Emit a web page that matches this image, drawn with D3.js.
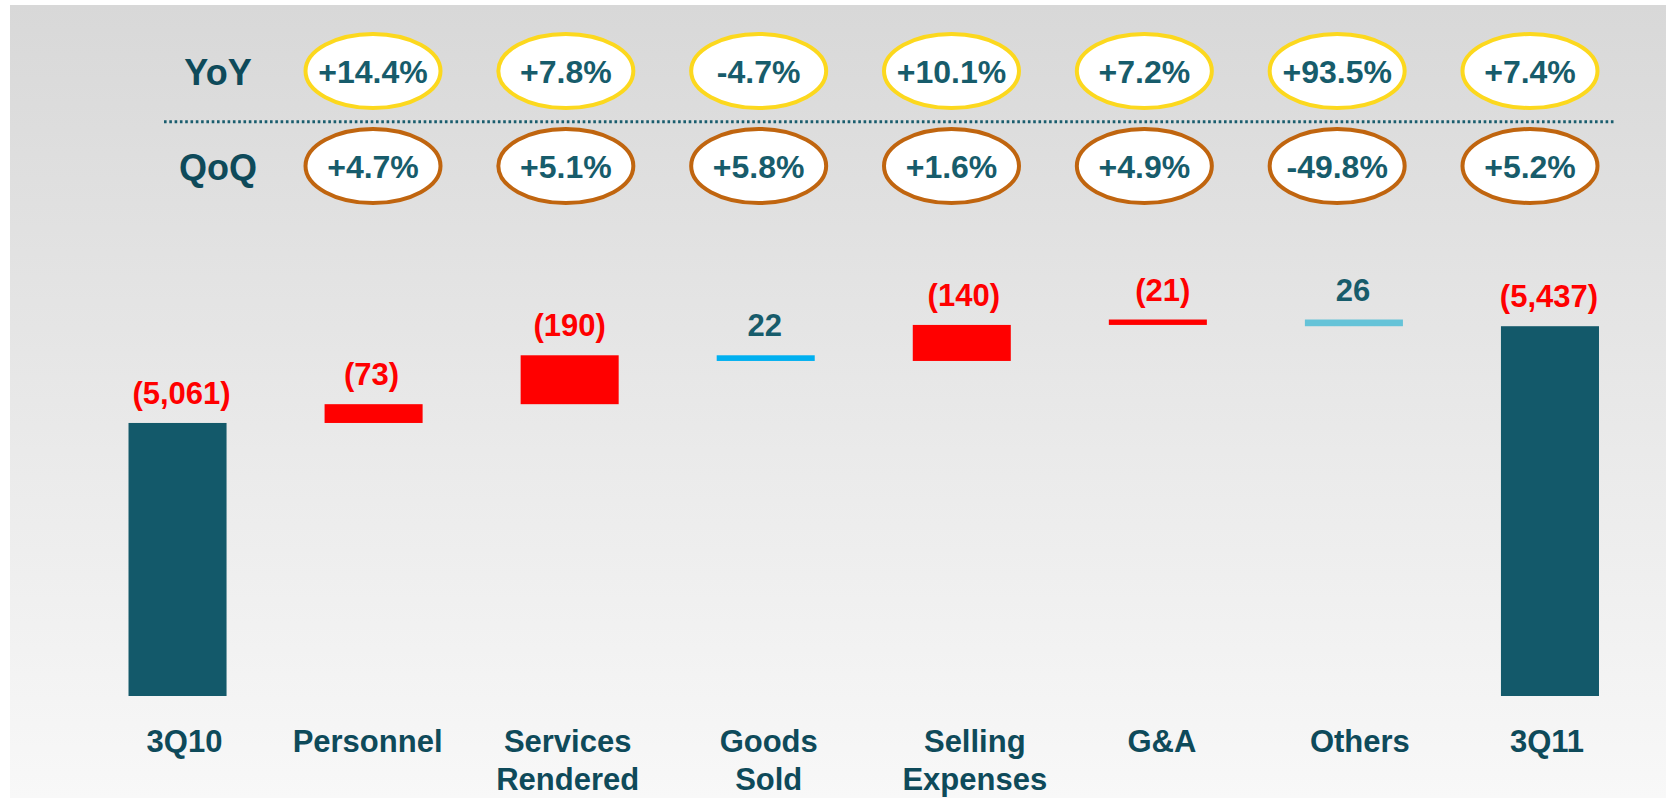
<!DOCTYPE html>
<html>
<head>
<meta charset="utf-8">
<script src="https://cdn.jsdelivr.net/npm/d3@7/dist/d3.min.js"></script>
<style>
  html, body { margin: 0; padding: 0; background: #ffffff; }
  svg { display: block; }
  text { font-family: "Liberation Sans", Arial, sans-serif; font-weight: bold; }
</style>
</head>
<body>
<svg id="chart" width="1666" height="798"></svg>
<script>
// ---- data ----
const categories = ["3Q10", "Personnel", "Services Rendered", "Goods Sold", "Selling Expenses", "G&A", "Others", "3Q11"];
const values = [5061, 73, 190, -22, 140, 21, -26, 5437];
const kinds = ["total", "delta", "delta", "delta", "delta", "delta", "delta", "total"];
const valueLabels = ["(5,061)", "(73)", "(190)", "22", "(140)", "(21)", "26", "(5,437)"];
const yoyCategories = ["Personnel", "Services Rendered", "Goods Sold", "Selling Expenses", "G&A", "Others", "3Q11"];
const yoy = ["+14.4%", "+7.8%", "-4.7%", "+10.1%", "+7.2%", "+93.5%", "+7.4%"];
const qoq = ["+4.7%", "+5.1%", "+5.8%", "+1.6%", "+4.9%", "-49.8%", "+5.2%"];
const axisBreak = 4000; // the bars start at a broken axis

// ---- styles ----
const teal = "#13596a";
const textTeal = "#175c6b";
const labelTeal = "#0e4a5a";
const red = "#ff0000";
const blueDown = { "Goods Sold": "#00b0f0", "Others": "#65c3d8" };
const catNudge = [7, -6, -2, 3, 13, 4, 6, -3];   // text-box placement as in the slide
const valNudge = [4, -2, 0, -1, 2, 5, -1, -1];

const svg = d3.select("#chart");
const W = 1666, H = 798;

// background gradient panel
const defs = svg.append("defs");
const grad = defs.append("linearGradient").attr("id", "bg").attr("x1", 0).attr("y1", 0).attr("x2", 0).attr("y2", 1);
grad.append("stop").attr("offset", "0%").attr("stop-color", "#d8d8d8");
grad.append("stop").attr("offset", "100%").attr("stop-color", "#f8f8f8");
svg.append("rect").attr("x", 10).attr("y", 5).attr("width", W - 10).attr("height", H - 5).attr("fill", "url(#bg)");

// scales
const x = d3.scaleBand().domain(categories).range([79.5, 1648]).paddingInner(0.5).paddingOuter(0.25);
const y = d3.scaleLinear().domain([axisBreak, 5500]).range([696, 310]);
const xp = d3.scalePoint().domain(yoyCategories).range([373, 1530]);

// waterfall computation
let running = 0;
const bars = categories.map((c, i) => {
  let lo, hi, fill;
  if (kinds[i] === "total") {
    running = values[i];
    lo = axisBreak; hi = values[i]; fill = teal;
  } else {
    const start = running, end = running + values[i];
    running = end;
    lo = Math.min(start, end); hi = Math.max(start, end);
    fill = values[i] > 0 ? red : blueDown[c];
  }
  return { i, c, lo, hi, fill, label: valueLabels[i], labelColor: (kinds[i] === "total" || values[i] > 0) ? red : textTeal };
});

svg.append("g").selectAll("rect").data(bars).join("rect")
  .attr("x", d => x(d.c))
  .attr("width", x.bandwidth())
  .attr("y", d => y(d.hi))
  .attr("height", d => y(d.lo) - y(d.hi))
  .attr("fill", d => d.fill);

svg.append("g").selectAll("text").data(bars).join("text")
  .attr("x", d => x(d.c) + x.bandwidth() / 2 + valNudge[d.i])
  .attr("y", d => y(d.hi) - 19)
  .attr("text-anchor", "middle")
  .attr("font-size", 31)
  .attr("fill", d => d.labelColor)
  .text(d => d.label);

// category labels
const catG = svg.append("g");
categories.forEach((c, i) => {
  const cx = x(c) + x.bandwidth() / 2 + catNudge[i];
  const t = catG.append("text")
    .attr("x", cx)
    .attr("y", 752)
    .attr("text-anchor", "middle")
    .attr("font-size", 31)
    .attr("fill", labelTeal);
  c.split(" ").forEach((w, j) => {
    t.append("tspan").attr("x", cx).attr("dy", j === 0 ? 0 : 38).text(w);
  });
});

// YoY / QoQ rows
const rows = [
  { name: "YoY", vals: yoy, cy: 71, stroke: "#fcd81e" },
  { name: "QoQ", vals: qoq, cy: 166, stroke: "#c0650f" }
];
rows.forEach(r => {
  svg.append("text").attr("x", 218).attr("y", r.cy + 14).attr("text-anchor", "middle")
    .attr("font-size", 36).attr("fill", labelTeal).text(r.name);
  const g = svg.append("g");
  g.selectAll("ellipse").data(yoyCategories).join("ellipse")
    .attr("cx", d => xp(d)).attr("cy", r.cy)
    .attr("rx", 67.5).attr("ry", 37)
    .attr("fill", "#ffffff").attr("stroke", r.stroke).attr("stroke-width", 4);
  g.selectAll("text").data(yoyCategories).join("text")
    .attr("x", d => xp(d)).attr("y", r.cy + 12)
    .attr("text-anchor", "middle").attr("font-size", 32).attr("fill", textTeal)
    .text((d, i) => r.vals[i]);
});

// dotted separator
svg.append("line").attr("x1", 164).attr("x2", 1616).attr("y1", 121.7).attr("y2", 121.7)
  .attr("stroke", "#1a5d6e").attr("stroke-width", 3).attr("stroke-dasharray", "2.6,2.7");
</script>
</body>
</html>
